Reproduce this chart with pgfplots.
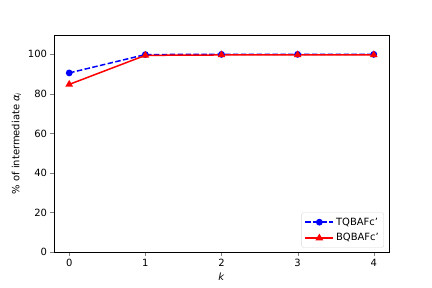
\documentclass[border=0pt]{standalone}
\usepackage{fontspec}
\setmainfont{DejaVu Sans}
\usepackage{pgfplots}
\pgfplotsset{compat=1.18}
\begin{document}
\fontsize{10}{12}\selectfont
\begin{tikzpicture}
\useasboundingbox (0,0) rectangle (432bp,288bp);
\begin{axis}[at={(54bp,36bp)}, anchor=south west,
	scale only axis, width=335bp, height=217bp,
	xmin=-0.2, xmax=4.2, ymin=0, ymax=109.8,
	xtick={0,1,2,3,4}, ytick={0,20,40,60,80,100},
	tick align=outside, major tick length=3.5bp,
	xtick pos=bottom, ytick pos=left,
	axis line style={black, line width=0.8pt},
	/pgf/number format/assume math mode=true,
	tick label style={font=\fontsize{10}{12}\selectfont},
	xlabel={\textit{k}}, ylabel={\% of intermediate \textit{α}\textsubscript{\textit{i}}},
	label style={font=\fontsize{10}{12}\selectfont},
	legend style={font=\fontsize{10}{12}\selectfont, draw=gray!30, rounded corners=2pt,
		inner sep=3pt, row sep=3pt, at={(0.985,0.02)}, anchor=south east},
	legend image code/.code={
		\draw[mark repeat=2,mark phase=2,#1] plot coordinates {(0bp,0bp) (14bp,0bp) (28bp,0bp)};},
	legend cell align=left]
	\addplot[blue, line width=1.5bp, dash pattern=on 5.5bp off 2.4bp, mark=*, mark size=2.6bp, mark options={solid}]
		coordinates {(0,90.6) (1,99.9) (2,100) (3,100) (4,100)};
	\addplot[red, line width=1.5bp, mark=triangle*, mark size=3bp, mark options={solid}]
		coordinates {(0,84.8) (1,99.5) (2,99.7) (3,99.7) (4,99.7)};
	\legend{TQBAFc\char"0027, BQBAFc\char"0027}
\end{axis}
\end{tikzpicture}
\end{document}
